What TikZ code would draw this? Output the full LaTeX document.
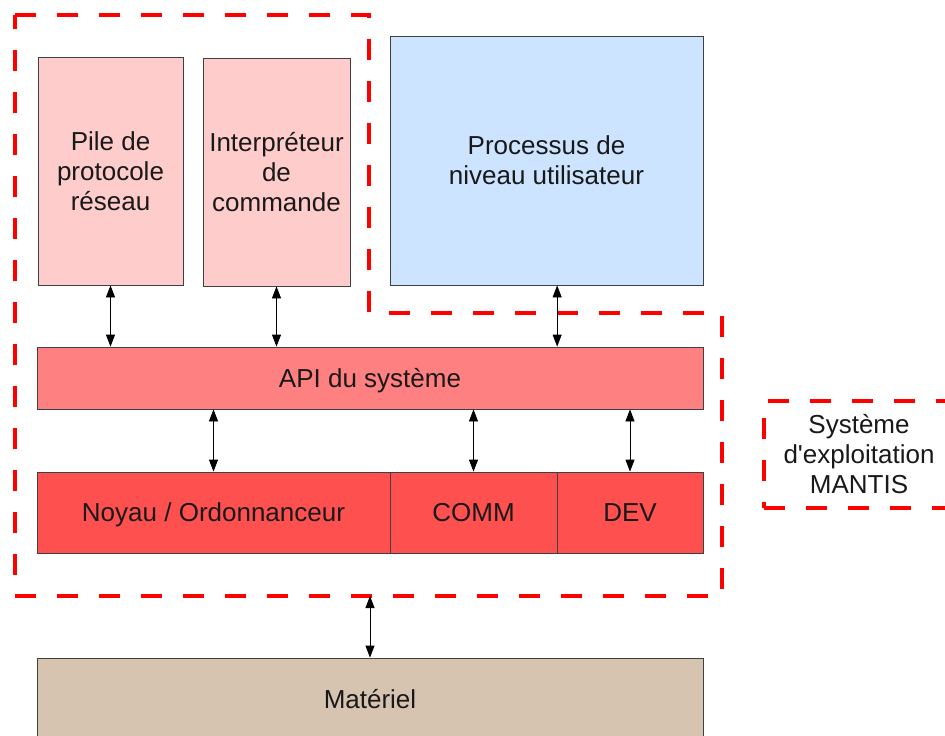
\documentclass[tikz,border=0pt]{standalone}
\usepackage{fontspec}
\setmainfont{Liberation Sans}
\usetikzlibrary{arrows.meta,calc}
\definecolor{rosepale}{RGB}{255,204,204}
\definecolor{bleupale}{RGB}{204,228,255}
\definecolor{rougeapi}{RGB}{255,128,128}
\definecolor{rougenoyau}{RGB}{255,80,80}
\definecolor{beige}{RGB}{214,196,176}

\begin{document}
\begin{tikzpicture}[x=1pt,y=1pt,
		bloc/.style={draw=black!75,line width=0.8pt,rectangle,align=center,inner sep=0pt,
			text=black!90,font=\fontsize{26}{30}\selectfont},
		ligne/.style={text height=20pt,text depth=1.5pt},
		lien/.style={{Triangle[length=12pt,width=9pt]}-{Triangle[length=12pt,width=9pt]},line width=0.8pt},
		contour/.style={red,line width=4pt,dash pattern=on 21pt off 21pt}]
		\clip (0,0) rectangle (945,-736);
		\fill [white] (0,0) rectangle (945,-736);
		\draw [contour] (15,-15) -- (369,-15) -- (369,-313) -- (722,-313) -- (722,-596) -- (15,-596) -- cycle;
		\coordinate (osbas) at (370,-596);
		\node [bloc,fill=rosepale,minimum width=145,minimum height=228] (pile) at (110.5,-171) {Pile de\\protocole\\réseau};
		\node [bloc,fill=rosepale,minimum width=147,minimum height=228] (interp) at (276.5,-172) {Interpréteur\\de\\commande};
		\node [bloc,fill=bleupale,minimum width=313,minimum height=249] (proc) at (546.5,-160.5) {Processus de\\niveau utilisateur};
		\node [bloc,ligne,fill=rougeapi,minimum width=666,minimum height=62] (api) at (370,-378) {API du système};
		\node [bloc,ligne,fill=rougenoyau,minimum width=353,minimum height=81] (noyau) at (213.5,-512.5) {Noyau / Ordonnanceur};
		\node [bloc,ligne,fill=rougenoyau,minimum width=167,minimum height=81] (comm) at (473.5,-512.5) {COMM};
		\node [bloc,ligne,fill=rougenoyau,minimum width=146,minimum height=81] (dev) at (630,-512.5) {DEV};
		\node [bloc,ligne,fill=beige,minimum width=666,minimum height=82] (materiel) at (370,-699) {Matériel};
		\node [bloc,draw=red,line width=4pt,dash pattern=on 21pt off 21pt,minimum width=190,minimum height=107] (legende) at (859,-454.5) {Système\\d\textquotesingle exploitation\\MANTIS};
		\coordinate (procbas) at ($(proc.south west)!0.534!(proc.south east)$);
		\draw [lien] (pile.south) -- (pile.south |- api.north);
		\draw [lien] (interp.south) -- (interp.south |- api.north);
		\draw [lien] (procbas) -- (procbas |- api.north);
		\draw [lien] (api.south -| noyau.north) -- (noyau.north);
		\draw [lien] (api.south -| comm.north) -- (comm.north);
		\draw [lien] (api.south -| dev.north) -- (dev.north);
		\draw [lien] (osbas) -- (materiel.north);
\end{tikzpicture}
\end{document}
